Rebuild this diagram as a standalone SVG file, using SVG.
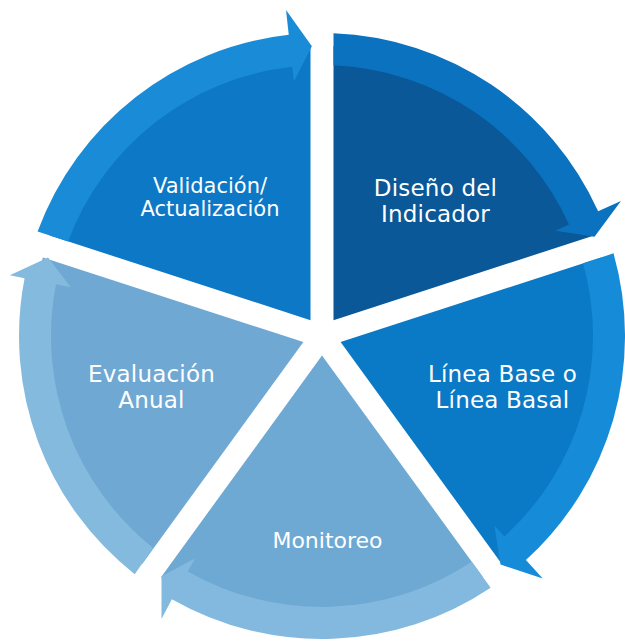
<svg xmlns="http://www.w3.org/2000/svg" width="625" height="644" viewBox="0 0 625 644">
  <style>
    .lbl { font-family: "DejaVu Sans", Verdana, "Liberation Sans", sans-serif; fill: #ffffff; text-anchor: middle; }
    .big { font-size: 23px; letter-spacing: 0.2px; }
    .small { font-size: 21px; }
    .mid { font-size: 22px; }
  </style>
  <rect width="625" height="644" fill="#ffffff"/>

  <g id="node-diseno">
    <path d="M333.5,320.18 L333.5,46.23 A290,290 0 0 1 594.03,235.51 Z" fill="#0a5898"/>
    <path d="M333.5,65.24 L333.5,33.22 A303,303 0 0 1 598.16,211.31 L620.94,201.02 L594.51,236.81 L555.32,230.65 L568.99,224.48 A271,271 0 0 0 333.5,65.24 Z" fill="#0b72bf"/>
    <text class="lbl big" x="435.5" y="196">Diseño del</text>
    <text class="lbl big" x="435.5" y="222">Indicador</text>
  </g>

  <g id="node-linea">
    <path d="M340.6,342.04 L601.15,257.39 A290,290 0 0 1 501.63,563.67 Z" fill="#0a79c6"/>
    <path d="M583.06,263.27 L613.52,253.37 A303,303 0 0 1 525.92,560.11 L542.75,578.6 L500.54,564.52 L494.29,525.35 L504.39,536.44 A271,271 0 0 0 583.06,263.27 Z" fill="#168cd8"/>
    <text class="lbl big" x="502.5" y="382">Línea Base o</text>
    <text class="lbl big" x="502.5" y="408">Línea Basal</text>
  </g>

  <g id="node-monitoreo">
    <path d="M322,355.56 L483.02,577.19 A290,290 0 0 1 160.98,577.19 Z" fill="#6ea9d4"/>
    <path d="M471.84,561.81 L490.67,587.72 A303,303 0 0 1 171.88,599.2 L161.5,619 L161.5,576.42 L195.16,558.37 L187.73,571.4 A271,271 0 0 0 471.84,561.81 Z" fill="#84b9df"/>
    <text class="lbl mid" x="327.5" y="548">Monitoreo</text>
  </g>

  <g id="node-evaluacion">
    <path d="M303.4,342.04 L142.37,563.67 A290,290 0 0 1 42.85,257.39 Z" fill="#6fa8d3"/>
    <path d="M153.05,547.89 L134.73,574.2 A303,303 0 0 1 24.57,278.18 L9.84,275.32 L48.04,257.44 L70.7,287.15 L55.98,284.29 A271,271 0 0 0 153.05,547.89 Z" fill="#85badf"/>
    <text class="lbl big" x="151.5" y="382">Evaluación</text>
    <text class="lbl big" x="151.5" y="408">Anual</text>
  </g>

  <g id="node-validacion">
    <path d="M310.5,320.18 L49.97,235.51 A290,290 0 0 1 310.5,46.23 Z" fill="#0d78c5"/>
    <path d="M68.05,241.4 L37.59,231.5 A303,303 0 0 1 288.75,34.83 L286.01,9.98 L311.88,46.18 L293.91,81.55 L292.26,66.64 A271,271 0 0 0 68.05,241.4 Z" fill="#1a8bd7"/>
    <text class="lbl small" x="210" y="193">Validación/</text>
    <text class="lbl small" x="210" y="216">Actualización</text>
  </g>

  <g id="connectors"/>
</svg>
